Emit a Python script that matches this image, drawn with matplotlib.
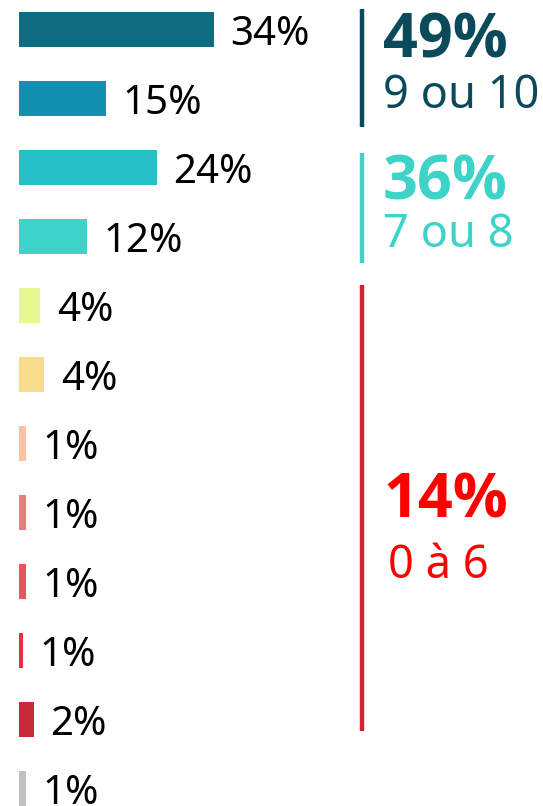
import matplotlib
matplotlib.use('Agg')
import matplotlib.pyplot as plt

# share of answers per score, top (10) to bottom (no answer)
values = [34.1, 15.2, 24.1, 11.9, 3.7, 4.4, 1.2, 1.2, 1.2, 0.7, 2.6, 1.2]
labels = ['34%', '15%', '24%', '12%', '4%', '4%', '1%', '1%', '1%', '1%', '2%', '1%']
colors = ['#0f6b80', '#1390b0', '#27bfc8', '#3dd3c8', '#e8f88e', '#f9dc8a',
          '#f7c3a4', '#ee7a80', '#e85560', '#e83040', '#c8283a', '#c0c0c0']

# groups on the right
grp_pct = ['49%', '36%', '14%']
grp_txt = ['9 ou 10', '7 ou 8', '0 à 6']
grp_col = ['#0b4a5a', '#3dd3c8', '#ff0000']
grp_line_col = ['#0b4a5a', '#45d0c8', '#d8202e']
grp_span = [(-0.29, 1.41), (1.79, 3.38), (3.70, 10.17)]
grp_base = [(0.40, 1.14), (2.47, 3.15), (7.07, 7.95)]

plt.rcParams['font.family'] = ['Noto Sans', 'DejaVu Sans']

fig = plt.figure(figsize=(5.43, 8.06), dpi=100)
ax = fig.add_axes([0, 0, 1, 1])
ax.set_xlim(-19 / 5.72, (543 - 19) / 5.72)
ax.set_ylim((806 - 29.5) / 69, -29.5 / 69)
ax.axis('off')

rows = range(len(values))
ax.barh(rows, values, height=0.51, color=colors)
for i in rows:
    ax.text(values[i] + 2.9, i + 0.23, labels[i], fontsize=29,
            color='black', va='baseline', ha='left')

xl = (362 - 19) / 5.72
xt = (383 - 19) / 5.72
for k in range(3):
    ax.plot([xl, xl], grp_span[k], color=grp_line_col[k], lw=3.2, solid_capstyle='butt')
    ax.text(xt, grp_base[k][0], grp_pct[k], fontsize=44, fontweight='bold',
            family=['Open Sans', 'DejaVu Sans'],
            color=grp_col[k], va='baseline', ha='left')
    ax.text(xt + (0.9 if k == 2 else 0), grp_base[k][1], grp_txt[k],
            fontsize=32.5, color=grp_col[k], va='baseline', ha='left')

fig.savefig('out.png', dpi=100)
